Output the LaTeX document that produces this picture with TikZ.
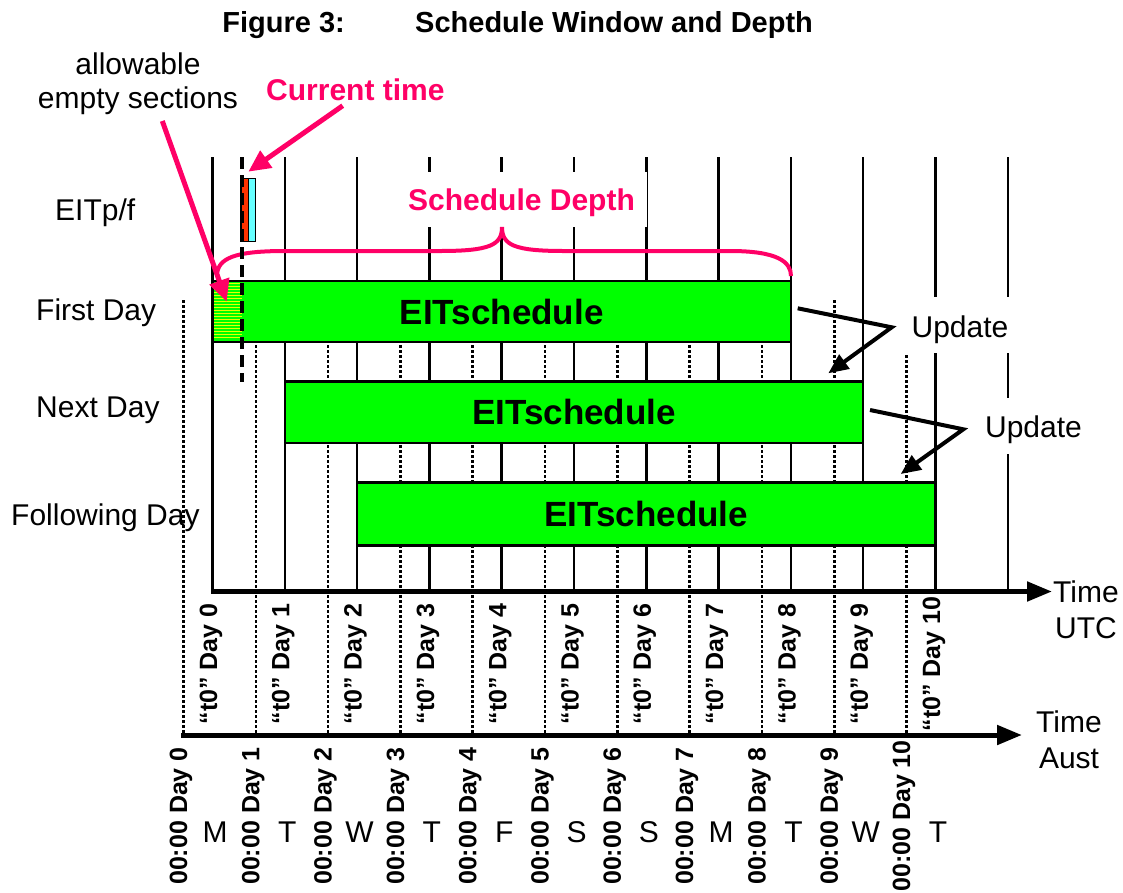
\documentclass[tikz,border=0pt]{standalone}
\usepackage{fontspec}
\setmainfont{Liberation Sans}
\usetikzlibrary{arrows.meta}
\definecolor{eitgreen}{RGB}{0,255,0}
\definecolor{eitpink}{RGB}{255,0,102}
\definecolor{eitred}{RGB}{255,51,0}
\definecolor{eitcyan}{RGB}{102,255,255}
\definecolor{hatchyellow}{RGB}{235,255,0}
\tikzset{
  solidline/.style={line width=2.5pt},
  dotline/.style={line width=2.6pt, dash pattern=on 2.6pt off 2.4pt},
  daybox/.style={draw, line width=2.5pt, fill=eitgreen, inner sep=0pt, minimum width=578.4pt,
    font=\bfseries\fontsize{35}{42}\selectfont},
  lbl/.style={inner sep=0pt, font=\fontsize{30}{36}\selectfont},
  boldlbl/.style={inner sep=0pt, font=\bfseries\fontsize{30}{36}\selectfont},
  titlelbl/.style={inner sep=0pt, font=\bfseries\fontsize{29}{35}\selectfont},
  daylbl/.style={inner sep=0pt, rotate=90, font=\bfseries\fontsize{25}{30}\selectfont},
  updlbl/.style={fill=white, inner sep=0pt, minimum width=112pt, minimum height=56pt,
    text height=30pt, text depth=6pt, font=\fontsize{30}{36}\selectfont},
  pinkarrow/.style={draw=eitpink, line width=5pt, -{Triangle[length=22pt,width=20pt]}},
  updarrow/.style={line width=4pt, -{Triangle[length=20pt,width=17pt]}},
  axisarrow/.style={line width=5pt, -{Triangle[length=25pt,width=19pt]}},
  pfbox/.style={draw, line width=1.5pt, inner sep=0pt, minimum width=7.3pt, minimum height=63.4pt},
}
\begin{document}
\begin{tikzpicture}[x=1pt,y=-1pt]
\useasboundingbox (0,0) rectangle (1123,892);

% UTC day boundaries (solid)
\foreach \k in {0,...,11} {
  \draw[solidline] ({212.5+72.3*\k},157) -- ({212.5+72.3*\k},591);
}
% Aust day boundaries (dotted)
\foreach \k in {0,...,10} {
  \draw[dotline] ({183.5+72.3*\k},300) -- ({183.5+72.3*\k},735);
}

% schedule boxes
\node[daybox, minimum height=61pt] (fd) at (501.7,311.5) {EITschedule};
\node[daybox, minimum height=61.5pt] (nd) at (574,412.25) {EITschedule};
\node[daybox, minimum height=63pt] (fw) at (646.3,514) {EITschedule};

% hatched allowable empty section
\fill[eitgreen] (213.75,282.25) rectangle (242,340.75);
\foreach \y in {283.5,286.5,...,340} {
  \draw[hatchyellow, line width=1.4pt] (213.75,\y) -- (242,\y);
}

% white-backed labels
\node[fill=white, inner sep=0pt, minimum width=251pt, minimum height=55pt,
  text height=27pt, text depth=6pt, text=eitpink,
  font=\bfseries\fontsize{30}{36}\selectfont] (sd) at (521.5,199.5) {Schedule Depth};
\node[updlbl] (up1) at (960,325) {Update};
\node[updlbl] (up2) at (1033.5,425.5) {Update};

% brace
\draw[eitpink, line width=4pt]
  (217,276) .. controls (217,258) and (235,251) .. (285,251) -- (440,251)
  .. controls (490,251) and (502,245) .. (502,227)
  .. controls (502,245) and (514,251) .. (564,251) -- (730,251)
  .. controls (778,251) and (791,262) .. (791,276);

% EITp/f
\node[pfbox, fill=eitred] (pfr) at (244.65,210) {};
\node[pfbox, fill=eitcyan] (pfc) at (252,210) {};

% current time dashed line
\coordinate (ctTop) at (242,157);
\coordinate (ctBot) at (242,381.7);
\draw[line width=3.5pt, dash pattern=on 12pt off 6pt] (ctTop) -- (ctBot);

% axes
\coordinate (utcA) at (211,591.5);
\coordinate (utcB) at (1052,591.5);
\coordinate (ausA) at (181,735);
\coordinate (ausB) at (1022,735);
\draw[axisarrow] (utcA) -- (utcB);
\draw[axisarrow] (ausA) -- (ausB);

% labels
\node[titlelbl, anchor=base east] (fig) at (345,32) {Figure 3:};
\node[titlelbl, anchor=base west] (title) at (415,32) {Schedule Window and Depth};
\node[lbl, align=center, font=\fontsize{30}{34.5}\selectfont] (aes) at (138,83.5) {allowable\\empty sections};
\node[boldlbl, anchor=base west, text=eitpink] (ct) at (266,100) {Current time};

\node[lbl, anchor=base west] (lpf) at (55,220.7) {EITp/f};
\node[lbl, anchor=base west] (lfd) at (36,320.7) {First Day};
\node[lbl, anchor=base west] (lnd) at (36,417.5) {Next Day};
\node[lbl, anchor=base west] (lfw) at (11,525.5) {Following Day};

\node[lbl, align=center] (tutc) at (1086,610) {Time\\UTC};
\node[lbl, align=center] (taus) at (1069,740) {Time\\Aust};

\foreach \k in {0,...,10} {
  \node[daylbl] (utc\k) at ({211+72.3*\k},664) {“t0” Day \k};
  \node[daylbl] (aus\k) at ({181+72.3*\k},816) {00:00 Day \k};
}
\foreach \l [count=\i from 0] in {M,T,W,T,F,S,S,M,T,W,T} {
  \node[lbl] (wd\i) at ({215+72.3*\i},832) {\l};
}

% pink arrows
\coordinate (ctS) at (342.7,105.7);
\coordinate (ctT) at (248.3,171.7);
\coordinate (aeS) at (162.3,121);
\coordinate (aeT) at (226.7,301.7);
\draw[pinkarrow] (ctS) -- (ctT);
\draw[pinkarrow] (aeS) -- (aeT);

% update arrows
\coordinate (u1s) at (797.7,308.3);
\coordinate (u1m) at (891.7,327.3);
\coordinate (u1e) at (828.3,373.3);
\coordinate (u2s) at (870,410);
\coordinate (u2m) at (963.3,429.3);
\coordinate (u2e) at (900.7,474);
\draw[updarrow] (u1s) -- (u1m) -- (u1e);
\draw[updarrow] (u2s) -- (u2m) -- (u2e);
\end{tikzpicture}
\end{document}
